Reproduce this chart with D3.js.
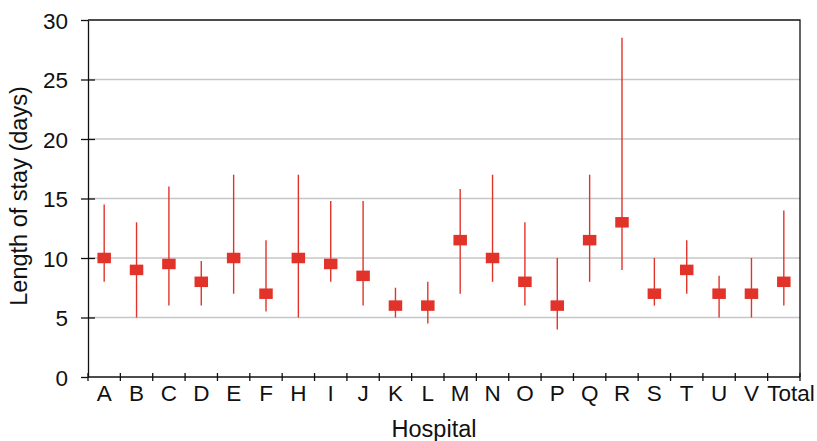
<!DOCTYPE html>
<html>
<head>
<meta charset="utf-8">
<script src="https://cdn.jsdelivr.net/npm/d3@7"></script>
<style>
  html, body { margin: 0; padding: 0; background: #fff; }
  text { font-family: "Liberation Sans", Arial, Helvetica, sans-serif; fill: #111; }
</style>
</head>
<body>
<svg id="chart" width="817" height="441"></svg>
<script>
// Length of stay per hospital: central value and range (low / high), in days
const hospitals = ["A","B","C","D","E","F","H","I","J","K","L","M","N","O","P","Q","R","S","T","U","V","Total"];
const centre = [10, 9, 9.5, 8, 10, 7, 10, 9.5, 8.5, 6, 6, 11.5, 10, 8, 6, 11.5, 13, 7, 9, 7, 7, 8];
const low    = [8, 5, 6, 6, 7, 5.5, 5, 8, 6, 5, 4.5, 7, 8, 6, 4, 8, 9, 6, 7, 5, 5, 6];
const high   = [14.5, 13, 16, 9.75, 17, 11.5, 17, 14.8, 14.8, 7.5, 8, 15.8, 17, 13, 10, 17, 28.5, 10, 11.5, 8.5, 10, 14];
const yTicks = [0, 5, 10, 15, 20, 25, 30];

const rows = hospitals.map((h, i) => ({ h, c: centre[i], lo: low[i], hi: high[i] }));

const svg = d3.select("#chart");
const plot = { left: 88, right: 800, top: 20, bottom: 377 };
const red = "#e2332a";
const tickFont = "22.5px", titleFont = "23.5px";

const x = d3.scaleBand().domain(hospitals).range([plot.left, plot.right]).padding(0);
const y = d3.scaleLinear().domain([0, 30]).range([plot.bottom, plot.top]);

// horizontal gridlines
svg.append("g")
  .selectAll("line")
  .data(yTicks.filter(t => t > 0 && t < 30))
  .join("line")
  .attr("x1", plot.left).attr("x2", plot.right)
  .attr("y1", d => y(d)).attr("y2", d => y(d))
  .attr("stroke", "#c6c6c6").attr("stroke-width", 1.3);

// plot frame: top and right edges
svg.append("path")
  .attr("d", `M${plot.left},${plot.top}H${plot.right}V${plot.bottom}`)
  .attr("fill", "none").attr("stroke", "#111").attr("stroke-width", 1.3);

// y axis
const yAxis = svg.append("g")
  .attr("transform", `translate(${plot.left},0)`)
  .call(d3.axisLeft(y).tickValues(yTicks).tickSize(7).tickPadding(13).tickSizeOuter(0));
yAxis.select(".domain").attr("stroke", "#111").attr("stroke-width", 1.3);
yAxis.selectAll(".tick line").attr("stroke", "#111").attr("stroke-width", 1.3)
  .attr("x1", d => (d === 0 || d === 30) ? 0 : 7);
yAxis.selectAll(".tick text")
  .style("font-size", tickFont).style("font-family", "'Liberation Sans', Arial, sans-serif")
  .attr("fill", "#111").attr("dy", "0.36em");

// x axis with ticks on category boundaries
const xAxis = svg.append("g")
  .attr("transform", `translate(0,${plot.bottom})`)
  .call(d3.axisBottom(x).tickSize(0).tickPadding(8).tickSizeOuter(0));
xAxis.select(".domain").attr("stroke", "#111").attr("stroke-width", 1.3)
  .attr("d", `M${plot.left},0H${plot.right}`);
xAxis.selectAll(".tick text")
  .style("font-size", tickFont).style("font-family", "'Liberation Sans', Arial, sans-serif")
  .attr("fill", "#111").attr("dy", "0.72em").attr("y", 8);
// the long "Total" label starts at its category's left edge instead of centring
xAxis.selectAll(".tick").filter(d => d === "Total").select("text")
  .attr("text-anchor", "start").attr("x", -x.bandwidth() / 2 - 0.5);
const boundaries = hospitals.map(h => x(h)).concat([plot.right]);
xAxis.append("g").selectAll("line")
  .data(boundaries)
  .join("line")
  .attr("x1", d => d).attr("x2", d => d)
  .attr("y1", -4).attr("y2", 4)
  .attr("stroke", "#111").attr("stroke-width", 1.3);

// range lines
const cx = d => x(d.h) + x.bandwidth() / 2;
svg.append("g").selectAll("line")
  .data(rows)
  .join("line")
  .attr("x1", cx).attr("x2", cx)
  .attr("y1", d => y(d.lo)).attr("y2", d => y(d.hi))
  .attr("stroke", red).attr("stroke-width", 1.4);

// central value markers
const mw = 13.5, mh = 10.5;
svg.append("g").selectAll("rect")
  .data(rows)
  .join("rect")
  .attr("x", d => cx(d) - mw / 2)
  .attr("y", d => y(d.c) - mh / 2)
  .attr("width", mw).attr("height", mh)
  .attr("fill", red);

// axis titles
svg.append("text")
  .attr("transform", `translate(27,196) rotate(-90)`)
  .attr("text-anchor", "middle")
  .style("font-size", titleFont)
  .text("Length of stay (days)");

svg.append("text")
  .attr("x", 434).attr("y", 437)
  .attr("text-anchor", "middle")
  .style("font-size", titleFont)
  .text("Hospital");
</script>
</body>
</html>
